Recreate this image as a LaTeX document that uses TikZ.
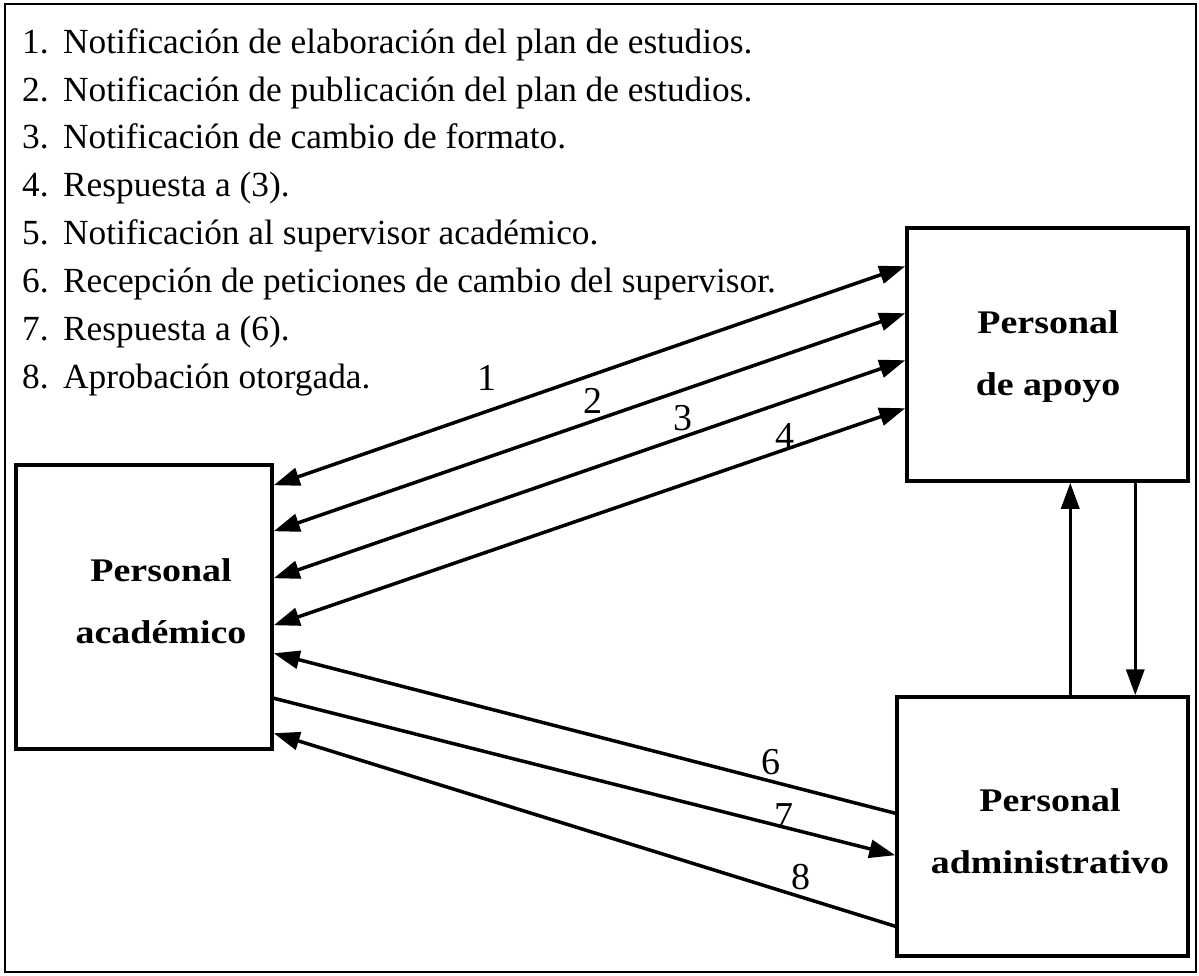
\documentclass[tikz,border=0pt]{standalone}
\usepackage{fontspec}
\setmainfont{Liberation Serif}
\newfontfamily\boxfont[FakeStretch=1.15]{Liberation Serif}
\usetikzlibrary{arrows.meta}
\tikzset{
  boxnode/.style={draw, line width=3.5pt, minimum width=#1, inner sep=0pt},
  boxlabel/.style={font=\boxfont\fontsize{33}{62}\selectfont\bfseries, align=center, inner sep=0pt},
  listline/.style={anchor=base west, inner sep=0pt, font=\fontsize{35.3}{40}\selectfont},
  numlabel/.style={inner sep=0pt, font=\fontsize{38}{40}\selectfont},
  conn/.style={line width=3.5pt, -{Triangle[length=26pt,width=18pt]}},
  dconn/.style={line width=3.5pt, {Triangle[length=26pt,width=18pt]}-{Triangle[length=26pt,width=18pt]}}
}
\newcommand{\itm}[2]{\makebox[41pt][l]{#1}#2}
\begin{document}
\begin{tikzpicture}[x=1pt,y=-1pt]
\useasboundingbox (0,0) rectangle (1199,976);
\draw[line width=2.5pt] (5,4) rectangle (1196,972);
% list
\node[listline] (l1) at (22,54)  {\itm{1.}{Notificación de elaboración del plan de estudios.}};
\node[listline] (l2) at (22,102) {\itm{2.}{Notificación de publicación del plan de estudios.}};
\node[listline] (l3) at (22,149) {\itm{3.}{Notificación de cambio de formato.}};
\node[listline] (l4) at (22,197) {\itm{4.}{Respuesta a (3).}};
\node[listline] (l5) at (22,245) {\itm{5.}{Notificación al supervisor académico.}};
\node[listline] (l6) at (22,292) {\itm{6.}{Recepción de peticiones de cambio del supervisor.}};
\node[listline] (l7) at (22,340) {\itm{7.}{Respuesta a (6).}};
\node[listline] (l8) at (22,388) {\itm{8.}{Aprobación otorgada.}};
% boxes
\node[boxnode=256pt, minimum height=284pt] (acad) at (144,607) {};
\node[boxnode=281pt, minimum height=253pt] (apoyo) at (1047.5,354.5) {};
\node[boxnode=291pt, minimum height=259pt] (admin) at (1042.5,826.5) {};
\node[boxlabel] (acadt) at (161,601) {Personal\\académico};
\node[boxlabel] (apoyot) at (1048,357) {Personal\\de apoyo};
\node[boxlabel] (admint) at (1050,831) {Personal\\administrativo};
% arrows académico <-> apoyo
\draw[dconn] ([yshift=-22pt]acad.north east) -- ([yshift=-40pt]apoyo.north west);
\draw[dconn] ([yshift=-68pt]acad.north east) -- ([yshift=-87pt]apoyo.north west);
\draw[dconn] ([yshift=-115pt]acad.north east) -- ([yshift=-134pt]apoyo.north west);
\draw[dconn] ([yshift=-162pt]acad.north east) -- ([yshift=-182pt]apoyo.north west);
% arrows académico <-> administrativo
\draw[conn] ([yshift=-118pt]admin.north west) -- ([yshift=-190pt]acad.north east);
\draw[conn] ([yshift=-235pt]acad.north east) -- ([yshift=-160pt]admin.north west);
\draw[conn] ([yshift=-231pt]admin.north west) -- ([yshift=-270pt]acad.north east);
% vertical arrows
\draw[conn] ([xshift=175pt]admin.north west) -- ([xshift=165pt]apoyo.south west);
\draw[conn] ([xshift=230pt]apoyo.south west) -- ([xshift=240pt]admin.north west);
% labels
\node[numlabel] (n1) at (487,378) {1};
\node[numlabel] (n2) at (593,401) {2};
\node[numlabel] (n3) at (683,418) {3};
\node[numlabel] (n4) at (785,436) {4};
\node[numlabel] (n6) at (771,762) {6};
\node[numlabel] (n7) at (784,816) {7};
\node[numlabel] (n8) at (801,877) {8};
\end{tikzpicture}
\end{document}
